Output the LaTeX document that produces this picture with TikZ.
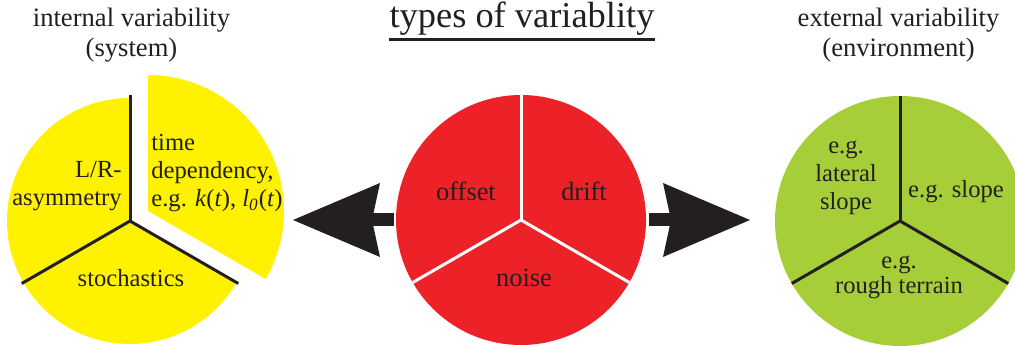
\documentclass[tikz,border=0pt]{standalone}
\usepackage{fontspec}
\setmainfont{Liberation Serif}
\usepackage{xcolor}
\usepackage{tikz}
\usetikzlibrary{positioning}
\usetikzlibrary{shapes,calc,arrows.meta}

\definecolor{pieyellow}{HTML}{FFF200}
\definecolor{piered}{HTML}{ED2128}
\definecolor{piegreen}{HTML}{A6CE39}
\definecolor{inkgray}{HTML}{231F20}

\begin{document}
\begin{tikzpicture}[x=0.5pt,y=0.5pt,
  pie node/.style={circle,inner sep=0pt,outer sep=0pt,minimum size=125pt},
  txt node/.style={inner sep=0pt,text=inkgray,font=\fontsize{12.3}{14}\selectfont,align=center},
  big txt node/.style={txt node,font=\fontsize{13.2}{15}\selectfont},
  head node/.style={inner sep=0pt,text=inkgray,font=\fontsize{13.3}{15}\selectfont,align=center},
  split/.style={line width=1.5pt,inkgray},
  cut/.style={line width=1.5pt,white},
  fat arrow/.style={line width=6.5pt,inkgray,-{Stealth[length=43.5pt,width=37pt,inset=4pt,line width=0pt]}}]
  \useasboundingbox (0,0) rectangle (1015,347);
  \clip (0,0) rectangle (1015,347);

  \coordinate (int) at (130,126);
  \coordinate (intx) at (148,136);
  \fill[pieyellow] (int) -- ++(90:123) arc[start angle=90,end angle=330,radius=123] -- cycle;
  \fill[pieyellow] (intx) -- ++(-30:136) arc[start angle=-30,end angle=90,radius=136] -- cycle;
  \draw[split] (int) -- ++(90:126);
  \draw[split] (int) -- ++(210:125);
  \draw[split] (int) -- ++(330:125);

  \node[pie node,fill=piered] (var) at (521,127) {};
  \draw[cut] (var.center) -- (var.90);
  \draw[cut] (var.center) -- (var.210);
  \draw[cut] (var.center) -- (var.330);

  \node[pie node,fill=piegreen] (ext) at (900,126) {};
  \draw[split] (ext.center) -- (ext.90);
  \draw[split] (ext.center) -- (ext.210);
  \draw[split] (ext.center) -- (ext.330);

  \coordinate (ltip) at (293,127);
  \coordinate (rtip) at (750,127);
  \draw[fat arrow] ([xshift=-1pt]var.west) -- (ltip);
  \draw[fat arrow] ([xshift=1.5pt]var.east) -- (rtip);

  \node[txt node,anchor=base east,align=right] (lr) at (122,141) {L/R-\\asymmetry};
  \node[txt node,anchor=base west,align=left] (time) at (151,140) {time\\dependency,\\e.g. \textit{k}(\textit{t}), \textit{l}\textsubscript{\textit{0}}(\textit{t})};
  \node[txt node,anchor=base] (stoch) at (131,60) {stochastics};

  \node[big txt node,anchor=base] (offset) at (466,146) {offset};
  \node[big txt node,anchor=base] (drift) at (584,146) {drift};
  \node[big txt node,anchor=base] (noise) at (524,60) {noise};

  \node[txt node,anchor=base] (lateral) at (846,137) {e.g.\\lateral\\slope};
  \node[txt node,anchor=base] (slope) at (956,149) {e.g. slope};
  \node[txt node,anchor=base] (rough) at (899,53) {e.g.\\[-1.5pt]rough terrain};

  \node[head node,anchor=base] (inthead) at (131.5,290) {internal variability\\(system)};
  \node[head node,anchor=base] (exthead) at (898.5,290) {external variability\\(environment)};
  \node[inner sep=0pt,text=inkgray,font=\fontsize{18.2}{20}\selectfont,anchor=base] (title) at (522,319) {types of variablity};
  \draw[line width=1.5pt,inkgray] ([yshift=-1.5pt]title.south west) -- ([yshift=-1.5pt]title.south east);
\end{tikzpicture}
\end{document}
